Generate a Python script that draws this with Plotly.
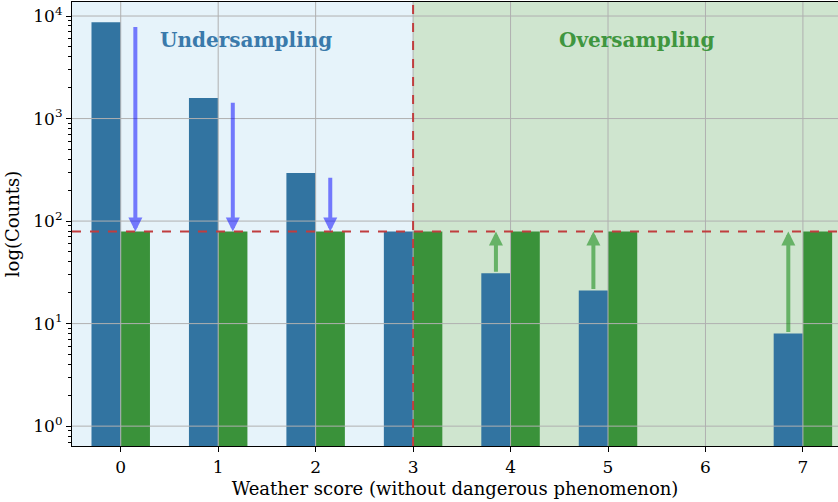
import math
import plotly.graph_objects as go

# Weather score classes and sample counts before / after resampling
scores = [0, 1, 2, 3, 4, 5, 6, 7]
original_counts = [8700, 1590, 294, 79, 31, 21, None, 8]
resampled_counts = [79, 79, 79, 79, 79, 79, None, 79]
target_count = 79
split_score = 3
y_tick_vals = [1, 10, 100, 1000, 10000]
y_tick_text = ["10<sup>0</sup>", "10<sup>1</sup>", "10<sup>2</sup>", "10<sup>3</sup>", "10<sup>4</sup>"]

BLUE = "#3274a1"
GREEN = "#3a923a"
RED = "#c03d3e"
SERIF = "DejaVu Serif"
BAR_W = 0.3

x_range = [-0.5, 7.36]
y_range = [math.log10(0.64), math.log10(13700)]

fig = go.Figure()
fig.add_trace(go.Bar(x=scores, y=original_counts, width=BAR_W, offset=-BAR_W,
                     marker=dict(color=BLUE, line=dict(width=0)), name="original"))
fig.add_trace(go.Bar(x=scores, y=resampled_counts, width=BAR_W, offset=0,
                     marker=dict(color=GREEN, line=dict(width=0)), name="resampled"))

shapes = []
# shaded regions: undersampling / oversampling
shapes.append(dict(type="rect", xref="x", yref="paper", x0=x_range[0], x1=split_score,
                   y0=0, y1=1, fillcolor="#e6f3fa", line=dict(width=0), layer="below"))
shapes.append(dict(type="rect", xref="x", yref="paper", x0=split_score, x1=x_range[1] + 0.5,
                   y0=0, y1=1, fillcolor="#cfe5cf", line=dict(width=0), layer="below"))
# grid drawn over the bars
for s in scores:
    shapes.append(dict(type="line", xref="x", yref="paper", x0=s, x1=s, y0=0, y1=1,
                       line=dict(color="#b0b0b0", width=1), layer="above"))
for v in y_tick_vals:
    shapes.append(dict(type="line", xref="paper", yref="y", x0=0, x1=1, y0=v, y1=v,
                       line=dict(color="#b0b0b0", width=1), layer="above"))
# threshold lines
shapes.append(dict(type="line", xref="paper", yref="y", x0=0, x1=1,
                   y0=target_count, y1=target_count,
                   line=dict(color=RED, width=2, dash="dash"), layer="above"))
shapes.append(dict(type="line", xref="x", yref="paper", x0=split_score, x1=split_score,
                   y0=0, y1=1, line=dict(color=RED, width=2, dash="dash"), layer="above"))
fig.update_layout(shapes=shapes)

annotations = []
# resampling arrows
for s, c in zip(scores, original_counts):
    if c is None or c == target_count:
        continue
    if c > target_count:
        ax_x, tail, col = s + BAR_W / 2, c * 0.93, "rgba(0,0,255,0.5)"
    else:
        ax_x, tail, col = s - BAR_W / 2, c, "rgba(0,128,0,0.5)"
    annotations.append(dict(x=ax_x, y=math.log10(target_count), ax=ax_x, ay=math.log10(tail),
                            xref="x", yref="y", axref="x", ayref="y", text="",
                            showarrow=True, arrowhead=2, arrowsize=0.7, arrowwidth=4,
                            arrowcolor=col, standoff=0))
annotations.append(dict(x=1.29, y=0.945, xref="x", yref="paper", showarrow=False,
                        text="<b>Undersampling</b>",
                        font=dict(family=SERIF, size=20, color="#3a7aab")))
annotations.append(dict(x=5.29, y=0.945, xref="x", yref="paper", showarrow=False,
                        text="<b>Oversampling</b>",
                        font=dict(family=SERIF, size=20, color="#3f963f")))
fig.update_layout(annotations=annotations)

minor_vals = [m * 10 ** k for k in range(-1, 5) for m in range(2, 10)]

fig.update_layout(
    width=838, height=502,
    margin=dict(l=72, r=0, t=2, b=56),
    paper_bgcolor="white", plot_bgcolor="white",
    barmode="overlay", showlegend=False,
    font=dict(family=SERIF, size=17, color="black"),
    xaxis=dict(range=x_range, tickvals=scores, ticks="outside", ticklen=5, tickcolor="black",
               showgrid=False, zeroline=False, showline=True, linecolor="black",
               linewidth=1.2, mirror=True,
               tickfont=dict(family=SERIF, size=17),
               title=dict(text="Weather score (without dangerous phenomenon)",
                          font=dict(family=SERIF, size=18), standoff=6)),
    yaxis=dict(type="log", range=y_range, tickvals=y_tick_vals, ticktext=y_tick_text,
               ticks="outside", ticklen=5, tickcolor="black",
               showgrid=False, zeroline=False, showline=True, linecolor="black",
               linewidth=1.2, mirror=False,
               minor=dict(tickvals=minor_vals, ticks="outside", ticklen=3,
                          tickcolor="black", showgrid=False),
               tickfont=dict(family=SERIF, size=17),
               title=dict(text="log(Counts)", font=dict(family=SERIF, size=18), standoff=8)),
)

fig.write_html("out.html")
